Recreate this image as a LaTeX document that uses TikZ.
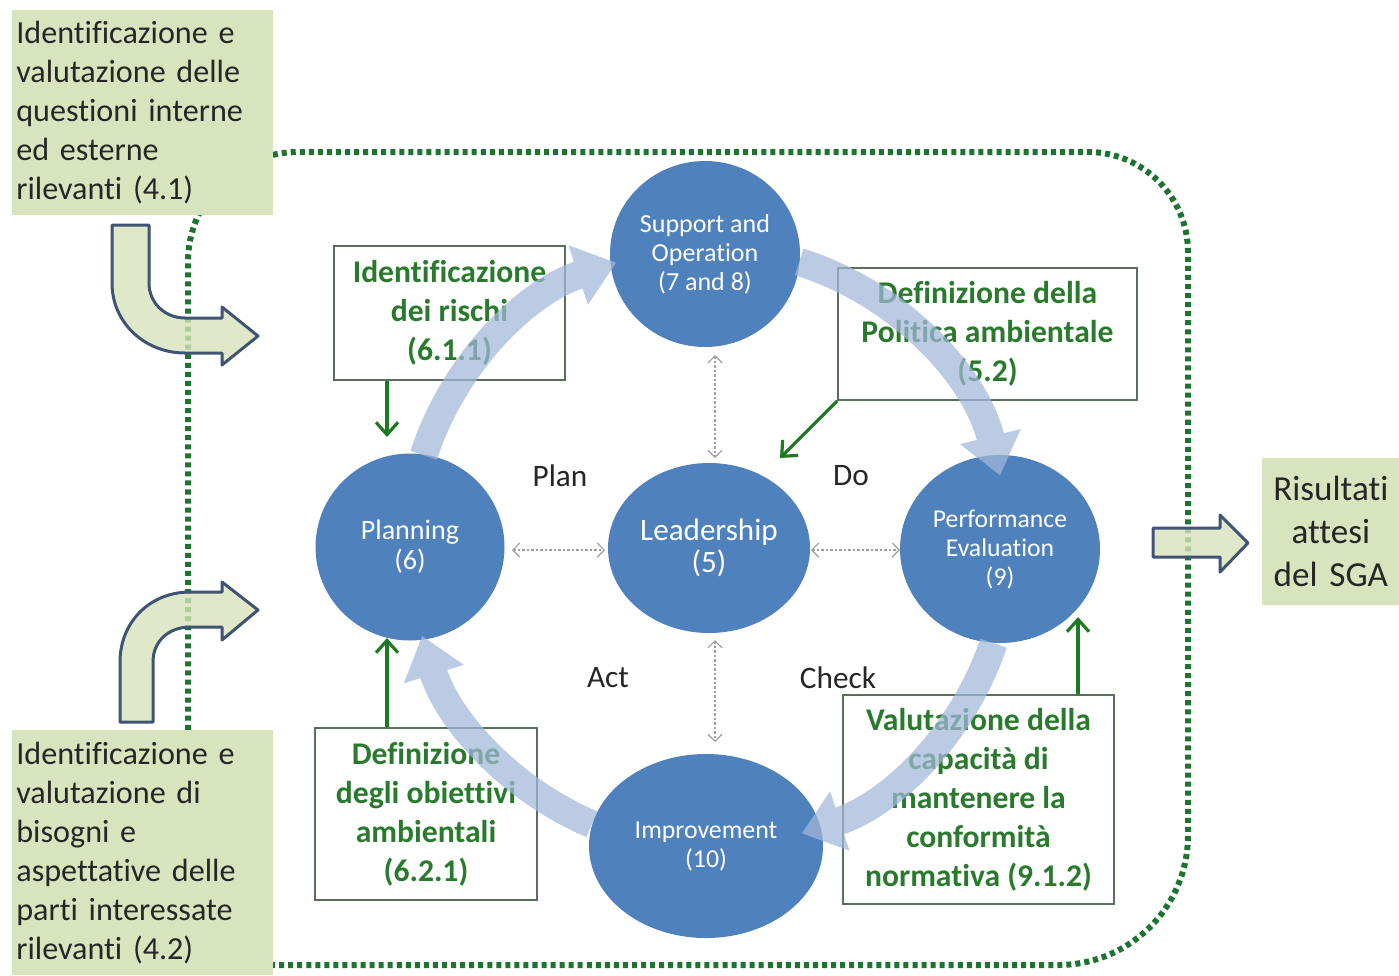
\documentclass[tikz,border=0pt]{standalone}
\usepackage{fontspec}
\setmainfont{Carlito}[Ligatures=NoCommon]
\usetikzlibrary{arrows.meta,shapes.geometric}
\newdimen\pxu \pxu=0.02cm
\definecolor{cblue}{HTML}{4F81BD}
\definecolor{ringc}{HTML}{A3B8DA}
\definecolor{gtext}{HTML}{2A7A2E}
\definecolor{gborder}{HTML}{56705A}
\definecolor{garrow}{HTML}{1E7A22}
\definecolor{olive}{HTML}{D7E4BD}
\definecolor{slate}{HTML}{3F5373}
\definecolor{dotg}{HTML}{1C7430}
\definecolor{ink}{HTML}{262626}
\tikzset{
  frame/.style={draw=dotg, line width=6\pxu, dash pattern=on 2.85pt off 2.3pt},
  sidebox/.style={fill=olive, text=ink, align=left, inner xsep=3\pxu, inner ysep=0pt,
    font=\fontsize{18.3}{22.2}\selectfont},
  blockarr/.style={fill=olive, fill opacity=0.8, draw=slate, line width=3\pxu, line join=round},
  blob/.style={ellipse, fill=cblue, text=white, align=center, inner sep=0pt},
  link/.style={draw=gray!75, line width=1.1\pxu, dash pattern=on 1.42pt off 1.14pt,
    arrows={Straight Barb[length=3.98pt,width=7.97pt]-Straight Barb[length=3.98pt,width=7.97pt]}},
  gbox/.style={draw=gborder, line width=1.6\pxu, text=gtext, align=center, inner sep=0pt,
    font=\bfseries\fontsize{18}{22.2}\selectfont},
  lbl/.style={text=ink, font=\fontsize{17.8}{20}\selectfont, inner sep=0pt},
  ring/.style={draw=ringc, line width=28\pxu,
    arrows={-Triangle[length=22.8pt,width=34.1pt]}},
  garr/.style={draw=garrow, line width=3.2\pxu, arrows={-Straight Barb[length=7pt,width=12.5pt]}}
}
\begin{document}
\begin{tikzpicture}[x=0.02cm,y=-0.02cm]
\useasboundingbox (0,0) rectangle (1399,975);
\fill[white] (0,0) rectangle (1399,975);

% dotted system boundary
\draw[frame] (188,965) -- (188,262) .. controls (188,201) and (237,152) .. (298,152)
  -- (1088,152) .. controls (1143,152) and (1188,197) .. (1188,252)
  -- (1188,835) .. controls (1188,907) and (1130,965) .. (1058,965) -- cycle;

% bent block arrows
\draw[blockarr] (112,225) -- (149,225) -- (149,283) .. controls (149,303) and (165,318) .. (185,318)
  -- (222,318) -- (222,307) -- (258,336) -- (222,365) -- (222,353) -- (185,353)
  .. controls (145,353) and (112,323) .. (112,283) -- cycle;
\draw[blockarr] (120,722) -- (120,662) .. controls (120,622) and (150,592) .. (190,592)
  -- (222,592) -- (222,582) -- (258,610) -- (222,640) -- (222,627) -- (190,627)
  .. controls (170,627) and (153,640) .. (153,662) -- (153,722) -- cycle;
\draw[blockarr] (1153,528) -- (1220,528) -- (1220,515) -- (1248,543) -- (1220,572)
  -- (1220,557) -- (1153,557) -- cycle;

% side boxes
\node[sidebox, anchor=north west, minimum width=261\pxu, minimum height=205\pxu, text width=253\pxu]
  (q41) at (12,10) {Identificazione e\\valutazione delle\\questioni interne\\ed esterne\\rilevanti (4.1)};
\node[sidebox, anchor=north west, minimum width=261\pxu, minimum height=245\pxu, text width=253\pxu]
  (q42) at (12,730) {Identificazione e\\valutazione di\\bisogni e\\aspettative delle\\parti interessate\\rilevanti (4.2)};
\node[sidebox, anchor=north west, align=center, minimum width=137\pxu, minimum height=147\pxu,
  text width=131\pxu, font=\fontsize{20}{24.5}\selectfont]
  (ris) at (1262,458) {Risultati\\attesi\\del SGA};

% PDCA circles
\node[blob, minimum width=190\pxu, minimum height=186\pxu, font=\fontsize{14.8}{16.5}\selectfont]
  (sup) at (705,254) {Support and\\Operation\\(7 and 8)};
\node[blob, minimum width=202\pxu, minimum height=170\pxu, font=\fontsize{17.7}{18.5}\selectfont]
  (lead) at (709,548) {Leadership\\(5)};
\node[blob, minimum width=189\pxu, minimum height=187\pxu, font=\fontsize{16}{17}\selectfont]
  (plan) at (410,547) {Planning\\(6)};
\node[blob, minimum width=200\pxu, minimum height=188\pxu, font=\fontsize{14.6}{16.5}\selectfont]
  (perf) at (1000,549) {Performance\\Evaluation\\(9)};
\node[blob, minimum width=234\pxu, minimum height=184\pxu, font=\fontsize{14.7}{16.5}\selectfont]
  (impr) at (706,846) {Improvement\\(10)};

% thin dotted two-way links
\coordinate (d1a) at (715,355); \coordinate (d1b) at (715,458);
\coordinate (d2a) at (715,640); \coordinate (d2b) at (715,742);
\coordinate (d3a) at (512,550); \coordinate (d3b) at (605,550);
\coordinate (d4a) at (811,550); \coordinate (d4b) at (900,550);
\draw[link] (d1a) -- (d1b);
\draw[link] (d2a) -- (d2b);
\draw[link] (d3a) -- (d3b);
\draw[link] (d4a) -- (d4b);

% PDCA labels
\node[lbl] (lp) at (560,476) {Plan};
\node[lbl] (ld) at (851,476) {Do};
\node[lbl] (la) at (608,678) {Act};
\node[lbl] (lc) at (838,678) {Check};

% green requirement boxes
\node[gbox, minimum width=231\pxu, minimum height=134\pxu] (risk) at (449.5,313)
  {Identificazione\\dei rischi\\(6.1.1)};
\node[gbox, minimum width=299\pxu, minimum height=132\pxu] (pol) at (987.5,334)
  {Definizione della\\Politica ambientale\\(5.2)};
\node[gbox, minimum width=222\pxu, minimum height=172\pxu] (obj) at (426,814)
  {Definizione\\degli obiettivi\\ambientali\\(6.2.1)};
\node[gbox, minimum width=271\pxu, minimum height=209\pxu] (conf) at (978.5,799.5)
  {Valutazione della\\capacità di\\mantenere la\\conformità\\normativa (9.1.2)};

% PDCA ring arrows
\coordinate (C) at (709,548);
\begin{scope}[transparency group, opacity=0.72]
\draw[ring] (C) ++(-162:300) arc[start angle=-162, end angle=-108, radius=300];
\draw[ring] (C) ++(-72.5:300) arc[start angle=-72.5, end angle=-14, radius=300];
\draw[ring] (C) ++(18.5:300) arc[start angle=18.5, end angle=72, radius=300];
\draw[ring] (C) ++(113:300) arc[start angle=113, end angle=163, radius=300];
\end{scope}

% green pointer arrows
\coordinate (g1) at (387,437);
\coordinate (g2) at (780,458);
\coordinate (g3) at (387,638);
\coordinate (g4) at (1078,617);
\draw[garr] (risk.south -| g1) -- (g1);
\draw[garr] (pol.south west) -- (g2);
\draw[garr] (obj.north -| g3) -- (g3);
\draw[garr] (conf.north -| g4) -- (g4);
\end{tikzpicture}
\end{document}
